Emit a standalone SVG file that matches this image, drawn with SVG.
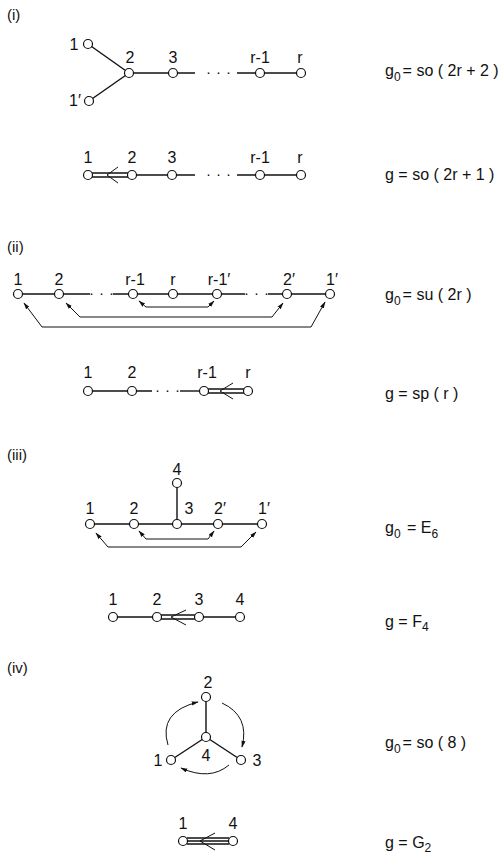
<svg xmlns="http://www.w3.org/2000/svg" width="502" height="858" viewBox="0 0 502 858">
<defs>
<style>
text{font-family:"Liberation Sans","DejaVu Sans",sans-serif;fill:#111;}
.lb{font-size:16px;text-anchor:middle;}
.sec{font-size:15px;}
.eq{font-size:16px;}
.sub{font-size:12px;}
.e{stroke:#111;stroke-width:1.4;fill:none;}
.a{stroke:#111;stroke-width:1;fill:none;}
.n{stroke:#111;stroke-width:1.2;fill:#fff;}
.dots{font-size:15px;letter-spacing:5px;}
</style>
<marker id="ah" viewBox="0 0 10 6" refX="9" refY="3" markerWidth="7" markerHeight="4.5" markerUnits="userSpaceOnUse" orient="auto-start-reverse">
<path d="M0,0 L10,3 L0,6 z" fill="#111"/>
</marker>
</defs>
<rect width="502" height="858" fill="#fff"/>

<!-- section labels -->
<text class="sec" x="7" y="20">(i)</text>
<text class="sec" x="7" y="252">(ii)</text>
<text class="sec" x="7" y="460">(iii)</text>
<text class="sec" x="7" y="673">(iv)</text>

<!-- connectors -->
<g id="connectors">
<!-- (i) D(r+1) -->
<line class="e" x1="88" y1="44" x2="129" y2="73"/>
<line class="e" x1="89" y1="101" x2="129" y2="73"/>
<line class="e" x1="129" y1="73" x2="195" y2="73"/>
<line class="e" x1="237" y1="73" x2="301" y2="73"/>
<!-- (i) B_r -->
<line class="e" x1="92" y1="173" x2="128" y2="173"/>
<line class="e" x1="92" y1="177" x2="128" y2="177"/>
<polyline class="a" points="118,167 107,175 118,183"/>
<line class="e" x1="132" y1="175" x2="195" y2="175"/>
<line class="e" x1="237" y1="175" x2="301" y2="175"/>
<!-- (ii) A_{2r-1} -->
<line class="e" x1="18" y1="294" x2="90" y2="294"/>
<line class="e" x1="113" y1="294" x2="245" y2="294"/>
<line class="e" x1="268" y1="294" x2="330" y2="294"/>
<polyline class="a" points="139,301 146,307 208,307 214,301" marker-start="url(#ah)" marker-end="url(#ah)"/>
<polyline class="a" points="66,303 80,317 272,317 283,303" marker-start="url(#ah)" marker-end="url(#ah)"/>
<polyline class="a" points="24,303 42,327 311,327 325,302" marker-start="url(#ah)" marker-end="url(#ah)"/>
<!-- (ii) C_r -->
<line class="e" x1="88" y1="391" x2="152" y2="391"/>
<line class="e" x1="180" y1="391" x2="204" y2="391"/>
<line class="e" x1="208" y1="389" x2="244" y2="389"/>
<line class="e" x1="208" y1="393" x2="244" y2="393"/>
<polyline class="a" points="233,383 220,391 233,399"/>
<!-- (iii) E6 -->
<line class="e" x1="90" y1="524" x2="262" y2="524"/>
<line class="e" x1="177" y1="483" x2="177" y2="524"/>
<polyline class="a" points="139,531 146,539 208,539 214,531" marker-start="url(#ah)" marker-end="url(#ah)"/>
<polyline class="a" points="96,533 108,547 241,547 256,532" marker-start="url(#ah)" marker-end="url(#ah)"/>
<!-- (iii) F4 -->
<line class="e" x1="113" y1="617" x2="157" y2="617"/>
<line class="e" x1="161" y1="615" x2="195" y2="615"/>
<line class="e" x1="161" y1="619" x2="195" y2="619"/>
<polyline class="a" points="186,610 171,617 186,625"/>
<line class="e" x1="199" y1="617" x2="240" y2="617"/>
<!-- (iv) D4 -->
<line class="e" x1="206" y1="697" x2="206" y2="737"/>
<line class="e" x1="171" y1="760" x2="206" y2="737"/>
<line class="e" x1="241" y1="760" x2="206" y2="737"/>
<path class="a" d="M168,745 Q158,712 198,702" marker-end="url(#ah)"/>
<path class="a" d="M222,703 Q250,716 242,747" marker-end="url(#ah)"/>
<path class="a" d="M229,765 Q210,781 181,768" marker-end="url(#ah)"/>
<!-- (iv) G2 -->
<line class="e" x1="187" y1="838" x2="229" y2="838"/>
<line class="e" x1="187" y1="841" x2="229" y2="841"/>
<line class="e" x1="187" y1="844" x2="229" y2="844"/>
<polyline class="a" points="215,833 200,841 215,850"/>
</g>

<!-- dots -->
<text class="dots" x="206" y="77">···</text>
<text class="dots" x="206" y="179">···</text>
<text class="dots" x="89" y="298">···</text>
<text class="dots" x="244" y="298">···</text>
<text class="dots" x="155" y="395">···</text>

<!-- (i) D nodes -->
<g id="i1-1"><circle class="n" cx="88" cy="44" r="4.5"/><text class="lb" x="74" y="50">1</text></g>
<g id="i1-1p"><circle class="n" cx="89" cy="101" r="4.5"/><text class="lb" x="75" y="106">1′</text></g>
<g id="i1-2"><circle class="n" cx="129" cy="73" r="4.5"/><text class="lb" x="130" y="63">2</text></g>
<g id="i1-3"><circle class="n" cx="173" cy="73" r="4.5"/><text class="lb" x="173" y="63">3</text></g>
<g id="i1-rm1"><circle class="n" cx="260" cy="73" r="4.5"/><text class="lb" x="260" y="63">r-1</text></g>
<g id="i1-r"><circle class="n" cx="301" cy="73" r="4.5"/><text class="lb" x="300" y="63">r</text></g>
<g id="i1-eq"><text class="eq" x="385" y="76">g<tspan class="sub" dy="5">0</tspan><tspan dy="-5" dx="2">= so ( 2r + 2 )</tspan></text></g>

<!-- (i) B nodes -->
<g id="i2-1"><circle class="n" cx="88" cy="175" r="4.5"/><text class="lb" x="88" y="163">1</text></g>
<g id="i2-2"><circle class="n" cx="132" cy="175" r="4.5"/><text class="lb" x="132" y="163">2</text></g>
<g id="i2-3"><circle class="n" cx="172" cy="175" r="4.5"/><text class="lb" x="172" y="163">3</text></g>
<g id="i2-rm1"><circle class="n" cx="260" cy="175" r="4.5"/><text class="lb" x="260" y="163">r-1</text></g>
<g id="i2-r"><circle class="n" cx="301" cy="175" r="4.5"/><text class="lb" x="300" y="163">r</text></g>
<g id="i2-eq"><text class="eq" x="385" y="180">g = so ( 2r + 1 )</text></g>

<!-- (ii) A nodes -->
<g id="ii1-1"><circle class="n" cx="18" cy="294" r="4.5"/><text class="lb" x="18" y="285">1</text></g>
<g id="ii1-2"><circle class="n" cx="59" cy="294" r="4.5"/><text class="lb" x="59" y="285">2</text></g>
<g id="ii1-rm1"><circle class="n" cx="133" cy="294" r="4.5"/><text class="lb" x="135" y="285">r-1</text></g>
<g id="ii1-r"><circle class="n" cx="173" cy="294" r="4.5"/><text class="lb" x="173" y="285">r</text></g>
<g id="ii1-rm1p"><circle class="n" cx="217" cy="294" r="4.5"/><text class="lb" x="219" y="285">r-1′</text></g>
<g id="ii1-2p"><circle class="n" cx="287" cy="294" r="4.5"/><text class="lb" x="289" y="285">2′</text></g>
<g id="ii1-1p"><circle class="n" cx="330" cy="294" r="4.5"/><text class="lb" x="332" y="285">1′</text></g>
<g id="ii1-eq"><text class="eq" x="385" y="300">g<tspan class="sub" dy="5">0</tspan><tspan dy="-5" dx="2">= su ( 2r )</tspan></text></g>

<!-- (ii) C nodes -->
<g id="ii2-1"><circle class="n" cx="88" cy="391" r="4.5"/><text class="lb" x="88" y="378">1</text></g>
<g id="ii2-2"><circle class="n" cx="132" cy="391" r="4.5"/><text class="lb" x="132" y="378">2</text></g>
<g id="ii2-rm1"><circle class="n" cx="204" cy="391" r="4.5"/><text class="lb" x="207" y="378">r-1</text></g>
<g id="ii2-r"><circle class="n" cx="248" cy="391" r="4.5"/><text class="lb" x="248" y="378">r</text></g>
<g id="ii2-eq"><text class="eq" x="385" y="399">g = sp ( r )</text></g>

<!-- (iii) E6 nodes -->
<g id="iii1-1"><circle class="n" cx="90" cy="524" r="4.5"/><text class="lb" x="90" y="514">1</text></g>
<g id="iii1-2"><circle class="n" cx="134" cy="524" r="4.5"/><text class="lb" x="134" y="514">2</text></g>
<g id="iii1-3"><circle class="n" cx="177" cy="524" r="4.5"/><text class="lb" x="189" y="514">3</text></g>
<g id="iii1-2p"><circle class="n" cx="218" cy="524" r="4.5"/><text class="lb" x="220" y="514">2′</text></g>
<g id="iii1-1p"><circle class="n" cx="262" cy="524" r="4.5"/><text class="lb" x="264" y="514">1′</text></g>
<g id="iii1-4"><circle class="n" cx="177" cy="483" r="4.5"/><text class="lb" x="177" y="475">4</text></g>
<g id="iii1-eq"><text class="eq" x="385" y="533">g<tspan class="sub" dy="5">0</tspan><tspan dy="-5" dx="2"> = E</tspan><tspan class="sub" dy="5">6</tspan></text></g>

<!-- (iii) F4 nodes -->
<g id="iii2-1"><circle class="n" cx="113" cy="617" r="4.5"/><text class="lb" x="113" y="605">1</text></g>
<g id="iii2-2"><circle class="n" cx="157" cy="617" r="4.5"/><text class="lb" x="157" y="605">2</text></g>
<g id="iii2-3"><circle class="n" cx="199" cy="617" r="4.5"/><text class="lb" x="199" y="605">3</text></g>
<g id="iii2-4"><circle class="n" cx="240" cy="617" r="4.5"/><text class="lb" x="240" y="605">4</text></g>
<g id="iii2-eq"><text class="eq" x="385" y="627">g = F<tspan class="sub" dy="4">4</tspan></text></g>

<!-- (iv) D4 nodes -->
<g id="iv1-2"><circle class="n" cx="206" cy="697" r="4.5"/><text class="lb" x="208" y="688">2</text></g>
<g id="iv1-4"><circle class="n" cx="206" cy="737" r="4.5"/><text class="lb" x="206" y="761">4</text></g>
<g id="iv1-1"><circle class="n" cx="171" cy="760" r="4.5"/><text class="lb" x="158" y="766">1</text></g>
<g id="iv1-3"><circle class="n" cx="241" cy="760" r="4.5"/><text class="lb" x="257" y="766">3</text></g>
<g id="iv1-eq"><text class="eq" x="385" y="748">g<tspan class="sub" dy="5">0</tspan><tspan dy="-5" dx="2">= so ( 8 )</tspan></text></g>

<!-- (iv) G2 nodes -->
<g id="iv2-1"><circle class="n" cx="183" cy="841" r="4.5"/><text class="lb" x="183" y="829">1</text></g>
<g id="iv2-4"><circle class="n" cx="233" cy="841" r="4.5"/><text class="lb" x="233" y="829">4</text></g>
<g id="iv2-eq"><text class="eq" x="385" y="848">g = G<tspan class="sub" dy="4">2</tspan></text></g>
</svg>
